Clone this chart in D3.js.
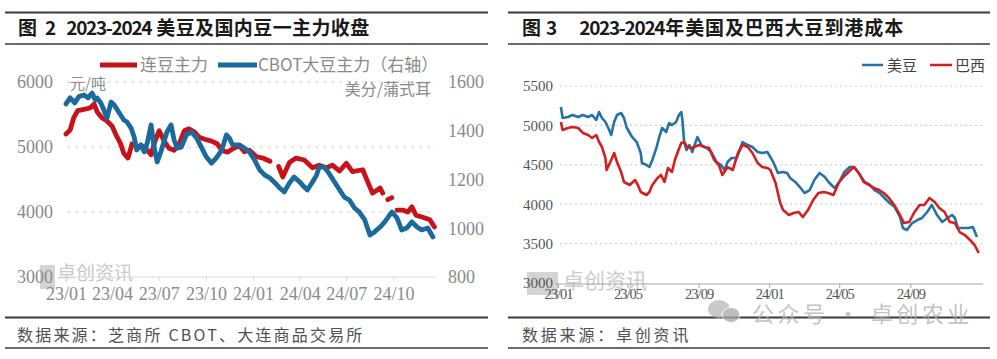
<!DOCTYPE html>
<html><head><meta charset="utf-8">
<script src="https://cdn.jsdelivr.net/npm/d3@7"></script>
<style>html,body{margin:0;padding:0;background:#fff;overflow:hidden}</style>
</head><body>
<svg id="c" width="997" height="359"></svg>
<script>
// ---------------- DATA ----------------
// Figure 2: Dalian soybean No.1 main contract (yuan/t, left axis) & CBOT soybean main (cents/bu, right axis)
const dalianDates = ["2023-01-01","2023-01-09","2023-01-16","2023-01-24","2023-02-05","2023-02-17","2023-02-25","2023-03-03","2023-03-12","2023-03-22","2023-04-01","2023-04-09","2023-04-17","2023-04-24","2023-05-02","2023-05-10","2023-05-19","2023-05-29","2023-06-09","2023-06-16","2023-06-24","2023-07-02","2023-07-11","2023-07-21","2023-07-31","2023-08-10","2023-08-20","2023-08-29","2023-09-09","2023-09-18","2023-09-29","2023-10-12","2023-10-23","2023-11-01","2023-11-12","2023-11-24","2023-12-05","2023-12-15","2023-12-25","2024-01-08","2024-01-20","2024-02-03","2024-02-12","2024-02-20","2024-02-28","2024-03-12","2024-03-25","2024-04-10","2024-04-26","2024-05-09","2024-05-23","2024-06-04","2024-06-18","2024-07-01","2024-07-13","2024-08-02","2024-08-12","2024-08-21","2024-09-05","2024-09-10","2024-09-15","2024-09-20","2024-09-28","2024-10-03","2024-10-08","2024-10-19","2024-10-29","2024-11-06","2024-11-14","2024-11-27","2024-12-11","2024-12-20"];
const dalianValues = [5200,5260,5450,5560,5580,5600,5660,5540,5450,5400,5320,5180,5060,4900,4830,5050,5000,5020,4950,4880,5100,5250,5100,4980,4950,5050,5250,5280,5230,5150,5120,5090,5050,4950,4920,4980,5020,4930,4950,4850,4830,4780,null,4700,4540,4760,4830,4800,4680,4720,4680,4720,4630,4750,4620,4650,4460,4290,4370,4290,null,4190,4220,null,4030,4030,4000,4080,3950,3920,3880,3770];

const cbotDates = ["2023-01-01","2023-01-09","2023-01-18","2023-01-26","2023-02-05","2023-02-13","2023-02-21","2023-02-27","2023-03-03","2023-03-10","2023-03-16","2023-03-22","2023-03-30","2023-04-05","2023-04-15","2023-04-24","2023-04-30","2023-05-08","2023-05-14","2023-05-19","2023-05-27","2023-06-03","2023-06-09","2023-06-16","2023-06-22","2023-06-28","2023-07-05","2023-07-11","2023-07-17","2023-07-25","2023-07-31","2023-08-06","2023-08-14","2023-08-24","2023-09-03","2023-09-13","2023-09-22","2023-10-02","2023-10-12","2023-10-21","2023-11-01","2023-11-10","2023-11-16","2023-11-22","2023-12-05","2023-12-15","2023-12-25","2024-01-04","2024-01-14","2024-01-24","2024-02-03","2024-02-13","2024-02-22","2024-03-02","2024-03-12","2024-03-21","2024-04-01","2024-04-10","2024-04-16","2024-04-26","2024-05-04","2024-05-09","2024-05-19","2024-05-28","2024-06-08","2024-06-18","2024-06-27","2024-07-07","2024-07-17","2024-07-26","2024-08-06","2024-08-16","2024-08-25","2024-09-05","2024-09-14","2024-09-28","2024-10-08","2024-10-17","2024-10-27","2024-11-06","2024-11-16","2024-11-25","2024-12-07","2024-12-17"];
const cbotValues = [1510,1535,1514,1540,1547,1535,1555,1526,1534,1514,1485,1452,1518,1506,1473,1444,1436,1411,1374,1321,1342,1313,1354,1424,1333,1272,1313,1354,1395,1424,1362,1329,1333,1383,1395,1370,1333,1292,1267,1288,1321,1383,1370,1342,1342,1329,1313,1280,1239,1218,1206,1186,1165,1149,1186,1210,1190,1169,1157,1190,1218,1251,1251,1226,1190,1157,1128,1116,1083,1067,1034,972,985,1005,1026,1067,1042,993,1001,1026,1005,993,1001,964];

const fig2LeftTicks = [3000,4000,5000,6000];
const fig2RightTicks = [800,1000,1200,1400,1600];
const fig2XTicks = ["2023-01-01","2023-04-01","2023-07-01","2023-10-01","2024-01-01","2024-04-01","2024-07-01","2024-10-01"];

// Figure 3: landed cost of US and Brazilian soybeans (yuan/t)
const usDates = ["2023-01-06","2023-01-09","2023-01-18","2023-01-26","2023-02-05","2023-02-13","2023-02-22","2023-03-01","2023-03-08","2023-03-13","2023-03-18","2023-03-24","2023-03-29","2023-04-03","2023-04-08","2023-04-13","2023-04-20","2023-04-25","2023-04-30","2023-05-09","2023-05-17","2023-05-24","2023-05-26","2023-06-03","2023-06-08","2023-06-13","2023-06-20","2023-06-25","2023-06-30","2023-07-07","2023-07-12","2023-07-17","2023-07-24","2023-07-29","2023-08-02","2023-08-04","2023-08-07","2023-08-11","2023-08-16","2023-08-21","2023-08-30","2023-09-06","2023-09-15","2023-09-23","2023-10-02","2023-10-10","2023-10-16","2023-10-21","2023-10-28","2023-11-06","2023-11-11","2023-11-16","2023-11-25","2023-12-03","2023-12-12","2023-12-20","2023-12-29","2024-01-08","2024-01-16","2024-01-24","2024-02-01","2024-02-06","2024-02-15","2024-02-23","2024-03-02","2024-03-11","2024-03-19","2024-03-28","2024-04-06","2024-04-14","2024-04-23","2024-05-01","2024-05-10","2024-05-19","2024-05-27","2024-06-06","2024-06-14","2024-06-23","2024-07-01","2024-07-10","2024-07-18","2024-07-27","2024-08-05","2024-08-14","2024-08-19","2024-08-26","2024-09-04","2024-09-13","2024-09-21","2024-09-30","2024-10-08","2024-10-17","2024-10-26","2024-11-04","2024-11-12","2024-11-17","2024-11-22","2024-12-01","2024-12-10","2024-12-18","2024-12-25"];
const usValues = [5234,5094,5107,5132,5107,5132,5107,5132,5069,5170,5094,5043,4967,4878,5043,5132,5157,5094,4967,4853,4789,4650,4523,4497,4472,4561,4713,4853,4967,4916,5030,5005,5043,5132,5170,5069,4789,4688,4751,4662,4853,4751,4713,4662,4535,4497,4434,4535,4586,4586,4688,4789,4751,4726,4662,4650,4662,4535,4396,4409,4396,4333,4282,4218,4142,4180,4307,4396,4345,4269,4206,4282,4409,4472,4472,4371,4282,4244,4180,4142,4079,4015,3964,3838,3698,3673,3761,3799,3825,3901,3990,3863,3774,3825,3863,3825,3698,3698,3698,3711,3584];

const brDates = ["2023-01-06","2023-01-09","2023-01-18","2023-01-26","2023-02-05","2023-02-13","2023-02-22","2023-03-01","2023-03-08","2023-03-13","2023-03-18","2023-03-24","2023-03-26","2023-04-03","2023-04-08","2023-04-13","2023-04-20","2023-04-25","2023-05-05","2023-05-14","2023-05-19","2023-05-24","2023-06-03","2023-06-08","2023-06-13","2023-06-22","2023-06-28","2023-07-04","2023-07-10","2023-07-17","2023-07-22","2023-07-27","2023-08-02","2023-08-07","2023-08-12","2023-08-19","2023-08-24","2023-09-02","2023-09-11","2023-09-19","2023-09-28","2023-10-06","2023-10-12","2023-10-21","2023-10-30","2023-11-08","2023-11-16","2023-11-25","2023-12-03","2023-12-12","2023-12-20","2023-12-29","2024-01-03","2024-01-12","2024-01-20","2024-01-25","2024-02-04","2024-02-12","2024-02-21","2024-02-28","2024-03-08","2024-03-17","2024-03-26","2024-04-04","2024-04-12","2024-04-21","2024-04-30","2024-05-08","2024-05-17","2024-05-26","2024-06-04","2024-06-12","2024-06-21","2024-06-30","2024-07-09","2024-07-17","2024-07-26","2024-08-04","2024-08-12","2024-08-21","2024-08-30","2024-09-08","2024-09-17","2024-09-25","2024-10-04","2024-10-13","2024-10-21","2024-10-30","2024-11-08","2024-11-17","2024-11-25","2024-12-04","2024-12-13","2024-12-21","2024-12-28"];
const brValues = [5043,4942,4967,4980,4967,4904,4878,4840,4878,4789,4726,4586,4434,4561,4650,4535,4409,4282,4244,4307,4244,4155,4117,4155,4244,4333,4371,4282,4459,4409,4561,4662,4777,4789,4726,4713,4726,4751,4726,4713,4561,4497,4371,4472,4434,4650,4751,4726,4650,4523,4472,4459,4434,4269,4015,3926,3863,3888,3901,3838,3926,4053,4142,4155,4142,4117,4269,4345,4409,4472,4396,4282,4244,4206,4180,4142,4079,3990,3888,3761,3774,3901,3990,3990,4079,4028,3952,3901,3774,3761,3647,3609,3546,3482,3381];

const fig3YTicks = [3000,3500,4000,4500,5000,5500];
const fig3XTicks = ["2023-01-01","2023-05-01","2023-09-01","2024-01-01","2024-05-01","2024-09-01"];

// ---------------- DRAW ----------------
const parse = d3.timeParse("%Y-%m-%d");
const SERIF = "'Liberation Serif','DejaVu Serif',serif";
const CJK = "'Noto Sans CJK SC','Noto Sans',sans-serif";
const svg = d3.select("#c");

function zip(dates, vals){ return dates.map((d,i)=>({d:parse(d), v:vals[i]})); }

// ---------- frames / titles / sources ----------
function frame(x0, x1){
  svg.append("line").attr("x1",x0).attr("x2",x1).attr("y1",12.5).attr("y2",12.5).attr("stroke","#3a3a3a").attr("stroke-width",2);
  svg.append("line").attr("x1",x0).attr("x2",x1).attr("y1",44).attr("y2",44).attr("stroke","#3a3a3a").attr("stroke-width",1.6);
  svg.append("line").attr("x1",x0).attr("x2",x1).attr("y1",317.5).attr("y2",317.5).attr("stroke","#3a3a3a").attr("stroke-width",1.8);
  svg.append("line").attr("x1",x0).attr("x2",x1).attr("y1",348).attr("y2",348).attr("stroke","#3a3a3a").attr("stroke-width",1.6);
}
frame(5,488); frame(508,990);

function title(x, parts){
  const t = svg.append("text").attr("x",x).attr("y",35).attr("font-family",CJK).attr("font-weight","bold")
    .attr("font-size",19).attr("fill","#1a1a1a");
  parts.forEach(p=>{ const s=t.append("tspan").text(p.t); if(p.ls!==undefined) s.attr("letter-spacing",p.ls); if(p.dx) s.attr("dx",p.dx); });
}
title(18,[{t:"图"},{t:"2",dx:8},{t:"2023-2024",dx:10,ls:-1.3},{t:"美豆及国内豆一主力收盘",dx:5,ls:0.4}]);
title(522,[{t:"图"},{t:"3",dx:5},{t:"2023-2024",dx:22,ls:-1.3},{t:"年美国及巴西大豆到港成本",dx:1,ls:0.9}]);

svg.append("text").attr("x",17).attr("y",341).attr("font-family",CJK).attr("font-size",16).attr("fill","#505050")
  .attr("letter-spacing",2.2).text("数据来源：芝商所 CBOT、大连商品交易所");
svg.append("text").attr("x",522).attr("y",341).attr("font-family",CJK).attr("font-size",16).attr("fill","#505050")
  .attr("letter-spacing",2.8).text("数据来源：卓创资讯");

// ---------- Figure 2 ----------
const x2 = d3.scaleTime().domain([parse("2023-01-01"), parse("2025-01-01")]).range([66, 440.6]);
const yL = d3.scaleLinear().domain([3000,6000]).range([277,82]);
const yR = d3.scaleLinear().domain([800,1600]).range([277,82]);

// watermark
svg.append("rect").attr("x",40).attr("y",265).attr("width",15).attr("height",24).attr("fill","#d4d4d4");
svg.append("text").attr("x",57).attr("y",280).attr("font-family",CJK).attr("font-size",19).attr("fill","#c9c9c9").text("卓创资讯");

const g2 = svg.append("g");
g2.selectAll(".gl").data(fig2LeftTicks.filter(t=>t>3000)).join("line")
  .attr("x1",67).attr("x2",436).attr("y1",d=>yL(d)).attr("y2",d=>yL(d))
  .attr("stroke","#d5d5d5").attr("stroke-width",1.2).attr("stroke-dasharray","4,4");

const axB2 = g2.append("g").attr("transform","translate(0,277)")
  .call(d3.axisBottom(x2).tickValues(fig2XTicks.map(parse)).tickFormat(d3.timeFormat("%y/%m")).tickSize(4).tickSizeOuter(0).tickPadding(6));
axB2.select(".domain").attr("stroke","#d9d9d9").attr("d","M60,0H436");
axB2.selectAll(".tick line").attr("stroke","#d9d9d9");
axB2.selectAll("text").attr("font-family",SERIF).attr("font-size",18).attr("fill","#8a8a8a");

const axL2 = g2.append("g").attr("transform","translate(60,0)")
  .call(d3.axisLeft(yL).tickValues(fig2LeftTicks).tickFormat(d3.format("d")).tickSize(0).tickPadding(7));
axL2.select(".domain").remove();
axL2.selectAll("text").attr("font-family",SERIF).attr("font-size",18).attr("fill","#8a8a8a");

const axR2 = g2.append("g").attr("transform","translate(440,0)")
  .call(d3.axisRight(yR).tickValues(fig2RightTicks).tickFormat(d3.format("d")).tickSize(0).tickPadding(8));
axR2.select(".domain").remove();
axR2.selectAll("text").attr("font-family",SERIF).attr("font-size",18).attr("fill","#8a8a8a");

g2.append("text").attr("x",70).attr("y",89).attr("font-family",CJK).attr("font-size",15).attr("fill","#8a8a8a").text("元/吨");
g2.append("text").attr("x",431).attr("y",95).attr("text-anchor","end").attr("font-family",CJK).attr("font-size",16).attr("fill","#8a8a8a").text("美分/蒲式耳");

const lineL = d3.line().defined(p=>p.v!=null).x(p=>x2(p.d)).y(p=>yL(p.v)).curve(d3.curveLinear);
const lineR = d3.line().defined(p=>p.v!=null).x(p=>x2(p.d)).y(p=>yR(p.v)).curve(d3.curveLinear);
g2.append("path").datum(zip(dalianDates,dalianValues)).attr("d",lineL).attr("fill","none")
  .attr("stroke","#c8121a").attr("stroke-width",4.8).attr("stroke-linejoin","round").attr("stroke-linecap","round");
g2.append("path").datum(zip(cbotDates,cbotValues)).attr("d",lineR).attr("fill","none")
  .attr("stroke","#1b6a9e").attr("stroke-width",4.8).attr("stroke-linejoin","round").attr("stroke-linecap","round");

// legend fig2
g2.append("line").attr("x1",100).attr("x2",137).attr("y1",65).attr("y2",65).attr("stroke","#c8121a").attr("stroke-width",5);
g2.append("text").attr("x",140).attr("y",71).attr("font-family",CJK).attr("font-size",17).attr("fill","#8a8a8a").text("连豆主力");
g2.append("line").attr("x1",218).attr("x2",257).attr("y1",65).attr("y2",65).attr("stroke","#1b6a9e").attr("stroke-width",5);
g2.append("text").attr("x",258).attr("y",71).attr("font-family",CJK).attr("font-size",17).attr("fill","#8a8a8a").text("CBOT大豆主力（右轴）");

// ---------- Figure 3 ----------
const x3 = d3.scaleTime().domain([parse("2023-01-01"), parse("2025-01-01")]).range([558, 981]);
const y3 = d3.scaleLinear().domain([3000,5500]).range([283,86]);

svg.append("rect").attr("x",527).attr("y",272).attr("width",31).attr("height",23).attr("fill","#d4d4d4");
svg.append("text").attr("x",563).attr("y",288).attr("font-family",CJK).attr("font-size",21).attr("fill","#cbcbcb").text("卓创资讯");

const g3 = svg.append("g");
g3.selectAll(".gl").data(fig3YTicks.filter(t=>t>3000)).join("line")
  .attr("x1",560).attr("x2",982).attr("y1",d=>y3(d)).attr("y2",d=>y3(d))
  .attr("stroke","#d2d2d2").attr("stroke-width",1.2).attr("stroke-dasharray","2,3");

const axB3 = g3.append("g").attr("transform","translate(0,284)")
  .call(d3.axisBottom(x3).tickValues(fig3XTicks.map(parse)).tickFormat(d3.timeFormat("%y/%m")).tickSize(4).tickSizeOuter(0).tickPadding(1));
axB3.select(".domain").attr("stroke","#a6a6a6").attr("stroke-width",1.2).attr("d","M555,0H983");
axB3.selectAll(".tick line").attr("stroke","#a6a6a6");
axB3.selectAll("text").attr("font-family",SERIF).attr("font-size",14.5).attr("letter-spacing",-1).attr("fill","#555");

const axL3 = g3.append("g").attr("transform","translate(554,0)")
  .call(d3.axisLeft(y3).tickValues(fig3YTicks).tickFormat(d3.format("d")).tickSize(0).tickPadding(1));
axL3.select(".domain").remove();
axL3.selectAll("text").attr("font-family",SERIF).attr("font-size",15).attr("fill","#555");

const line3 = d3.line().x(p=>x3(p.d)).y(p=>y3(p.v));
g3.append("path").datum(zip(usDates,usValues)).attr("d",line3).attr("fill","none")
  .attr("stroke","#2672a6").attr("stroke-width",2.6).attr("stroke-linejoin","round");
g3.append("path").datum(zip(brDates,brValues)).attr("d",line3).attr("fill","none")
  .attr("stroke","#d41f1f").attr("stroke-width",2.6).attr("stroke-linejoin","round");

// legend fig3
g3.append("line").attr("x1",862).attr("x2",883).attr("y1",65).attr("y2",65).attr("stroke","#2672a6").attr("stroke-width",2.5);
g3.append("text").attr("x",887).attr("y",70.5).attr("font-family",CJK).attr("font-size",15).attr("fill","#404040").text("美豆");
g3.append("line").attr("x1",930).attr("x2",952).attr("y1",65).attr("y2",65).attr("stroke","#d41f1f").attr("stroke-width",2.5);
g3.append("text").attr("x",955).attr("y",70.5).attr("font-family",CJK).attr("font-size",15).attr("fill","#404040").text("巴西");

// WeChat watermark
const wm = svg.append("g").attr("opacity",0.75);
wm.append("ellipse").attr("cx",719).attr("cy",309).attr("rx",11).attr("ry",9).attr("fill","#b8b8b8");
wm.append("ellipse").attr("cx",731).attr("cy",315).attr("rx",9).attr("ry",7.5).attr("fill","#a8a8a8").attr("stroke","#fff").attr("stroke-width",1);
wm.append("text").attr("x",752).attr("y",322).attr("font-family",CJK).attr("font-size",22).attr("letter-spacing",3.5)
  .attr("fill","#b0b0b0").text("公众号 · 卓创农业");
</script>
</body></html>
